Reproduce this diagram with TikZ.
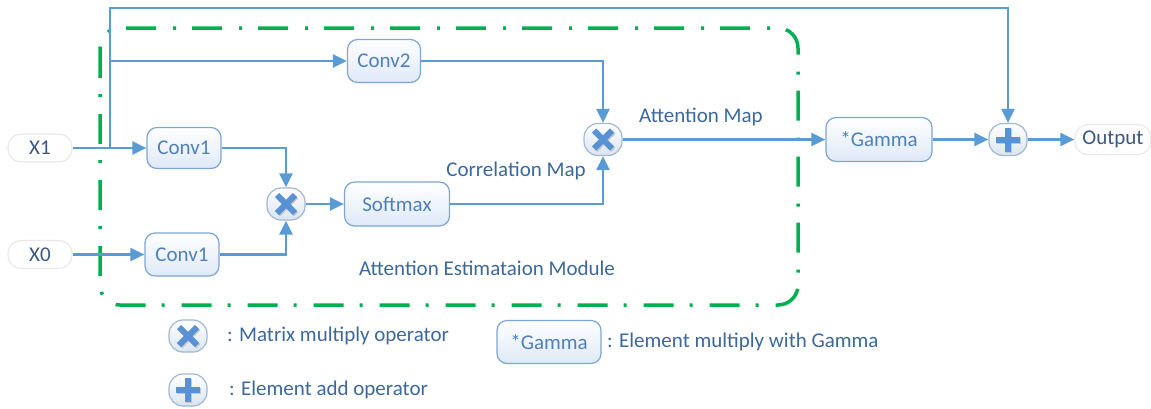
\documentclass[tikz,border=0pt]{standalone}
\usepackage{fontspec}
\setmainfont{Carlito}
\usetikzlibrary{arrows.meta}
\definecolor{link}{RGB}{91,155,213}
\definecolor{boxline}{RGB}{125,165,215}
\definecolor{boxfill}{RGB}{222,233,247}
\definecolor{boxtxt}{RGB}{80,128,186}
\definecolor{labtxt}{RGB}{60,104,156}
\definecolor{darktxt}{RGB}{58,88,128}
\definecolor{pillline}{RGB}{232,232,232}
\definecolor{opline}{RGB}{160,184,212}
\definecolor{opfill}{RGB}{218,228,240}
\definecolor{symcol}{RGB}{88,146,212}
\definecolor{modgreen}{RGB}{0,176,80}
\begin{document}
\begin{tikzpicture}[x=1pt,y=-1pt,
  font=\fontsize{21}{25}\selectfont,
  box/.style={draw=boxline, line width=1.2pt, top color=white, bottom color=boxfill,
    rounded corners=10pt, inner sep=0pt, text=boxtxt},
  pill/.style={draw=pillline, line width=1.2pt, fill=white, rounded corners=13pt,
    inner sep=0pt, text=darktxt},
  op/.style={draw=opline, line width=1.2pt, top color=white, bottom color=opfill,
    rounded corners=14pt, minimum width=38pt, minimum height=32pt, inner sep=0pt},
  sym/.style={line width=6pt, draw=symcol, sharp corners},
  symshadow/.style={line width=6pt, draw=gray!45, sharp corners},
  mult/.style={op, path picture={
    \draw[symshadow] ([shift={(-9,-9)}]path picture bounding box.center) ++(1.2,1.2) -- ++(18,18);
    \draw[symshadow] ([shift={(-9,9)}]path picture bounding box.center) ++(1.2,1.2) -- ++(18,-18);
    \draw[sym] ([shift={(-9,-9)}]path picture bounding box.center) -- ++(18,18);
    \draw[sym] ([shift={(-9,9)}]path picture bounding box.center) -- ++(18,-18);}},
  add/.style={op, path picture={
    \draw[symshadow] ([shift={(-12,0)}]path picture bounding box.center) ++(1.2,1.2) -- ++(24,0);
    \draw[symshadow] ([shift={(0,-12)}]path picture bounding box.center) ++(1.2,1.2) -- ++(0,24);
    \draw[sym] ([shift={(-12,0)}]path picture bounding box.center) -- ++(24,0);
    \draw[sym] ([shift={(0,-12)}]path picture bounding box.center) -- ++(0,24);}},
  conn/.style={draw=link, line width=2.5pt, -{Triangle[length=14pt,width=13pt]}},
  lab/.style={text=labtxt, inner sep=0pt},
  module/.style={draw=modgreen, line width=3.5pt, rounded corners=20pt,
    dash pattern=on 30pt off 16pt on 3pt off 17pt}
]
\useasboundingbox (0,0) rectangle (1151,408);

% module frame
\draw[module] (100,28) rectangle (798,305);

% nodes
\node[pill, minimum width=64pt, minimum height=28pt] (x1) at (40,148) {X1};
\node[pill, minimum width=64pt, minimum height=28pt] (x0) at (40,254.5) {X0};
\node[box, minimum width=74pt, minimum height=41pt] (c1a) at (184,148) {Conv1};
\node[box, minimum width=74pt, minimum height=43pt] (c1b) at (182,254.5) {Conv1};
\node[box, minimum width=73pt, minimum height=43pt] (c2) at (384,61) {Conv2};
\node[mult] (m1) at (286,204) {};
\node[box, minimum width=105pt, minimum height=44pt] (sm) at (397,204) {Softmax};
\node[mult] (m2) at (603,139.5) {};
\node[box, minimum width=106pt, minimum height=44pt] (gam) at (879,139.5) {*Gamma};
\node[add] (ad) at (1008,139.5) {};
\node[pill, minimum width=76pt, minimum height=30pt] (out) at (1113,139.5) {Output};

\coordinate (split) at (110,148);
\coordinate (ctop) at (110,8);
\coordinate (br) at (110,61);

% connectors
\draw[conn] (x1) -- (c1a);
\draw[conn] (x0) -- (c1b);
\draw[conn] (split) -- (ctop) -| (ad);
\draw[conn] (br) -- (c2);
\draw[conn] (c2) -| (m2);
\draw[conn] (c1a) -| (m1);
\draw[conn] (c1b) -| (m1);
\draw[conn] (m1) -- (sm);
\draw[conn] (sm) -| (m2);
\draw[conn] (m2) -- (gam);
\draw[conn] (gam) -- (ad);
\draw[conn] (ad) -- (out);

% labels
\node[lab] (lcorr) at (516,171) {Correlation Map};
\node[lab] (latt) at (701,117) {Attention Map};
\node[lab] (lmod) at (487,268) {Attention Estimataion Module};

% legend
\node[mult] (lm) at (188,336) {};
\node[lab, anchor=west] (lmt) at (227,336) {: Matrix multiply operator};
\node[box, minimum width=104pt, minimum height=43pt] (lg) at (549,342) {*Gamma};
\node[lab, anchor=west] (lgt) at (607,342) {: Element multiply with Gamma};
\node[add] (la) at (188,390) {};
\node[lab, anchor=west] (lat) at (229,390) {: Element add operator};
\end{tikzpicture}
\end{document}
